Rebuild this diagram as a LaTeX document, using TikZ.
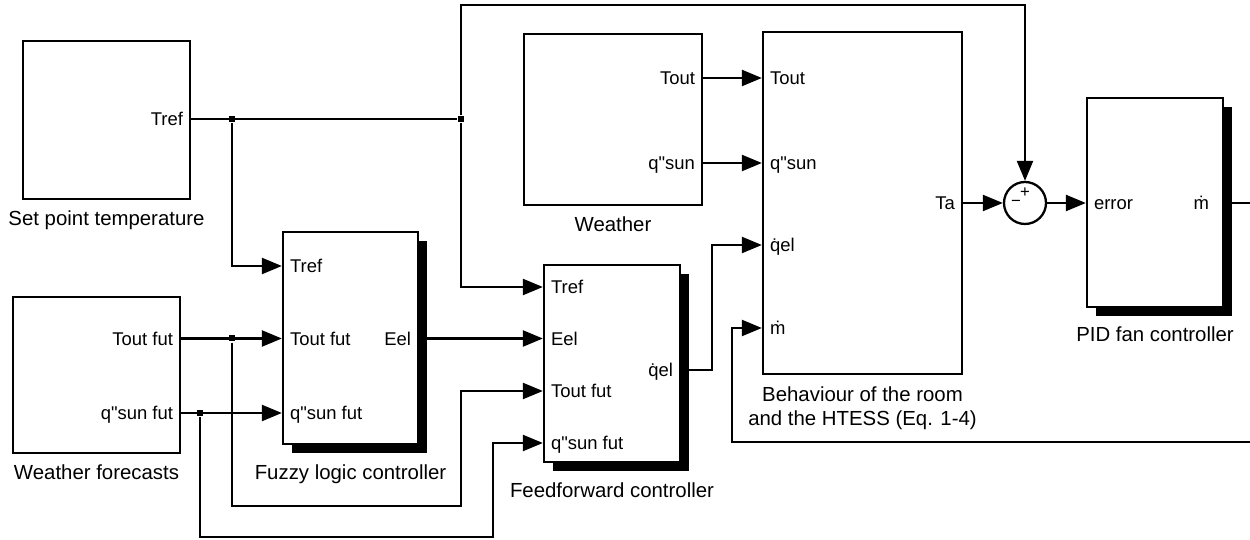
\documentclass[tikz,border=0pt]{standalone}
\usepackage{fontspec}
\newfontfamily\arial{Liberation Sans}
\usetikzlibrary{arrows.meta, positioning, calc, shadows}
\tikzset{
  bloque/.style={rectangle, draw=black, fill=white, inner sep=0pt},
  bloquesh/.style={bloque, drop shadow={opacity=1, fill=black, shadow xshift=0.18cm, shadow yshift=-0.18cm}},
  suma/.style={circle, draw=black, fill=white, minimum size=0.84cm, inner sep=0pt},
  signo/.style={font=\arial\fontsize{9.5}{10}\selectfont, inner sep=0pt},
  puerto/.style={font=\arial\fontsize{10.5}{12}\selectfont, inner xsep=4pt, inner ysep=0pt,
                 text height=7.5pt, text depth=0pt},
  pin/.style={puerto, anchor=west},
  pout/.style={puerto, anchor=east},
  rotulo/.style={font=\arial\fontsize{11.6}{13.6}\selectfont, inner sep=0pt, align=center},
  nodo/.style={rectangle, fill=black, minimum size=0.12cm, inner sep=0pt},
  flecha/.style={-{Triangle[length=0.4cm,width=0.32cm]}}
}
\begin{document}
\begin{tikzpicture}[line width=1.3pt]
  \useasboundingbox (0,0) rectangle (25,10.8);
  % bloques
  \node (sp) [bloque, minimum width=3.34cm, minimum height=3.16cm] at (2.13,8.40) {};
  \node (wf) [bloque, minimum width=3.34cm, minimum height=3.12cm] at (1.93,3.30) {};
  \node (fz) [bloquesh, minimum width=2.70cm, minimum height=4.24cm] at (7.01,4.04) {};
  \node (ff) [bloquesh, minimum width=2.72cm, minimum height=3.94cm] at (12.24,3.53) {};
  \node (we) [bloque, minimum width=3.56cm, minimum height=3.42cm] at (12.26,8.41) {};
  \node (rm) [bloque, minimum width=3.98cm, minimum height=6.84cm] at (17.25,6.74) {};
  \node (sm) [suma] at (20.50,6.74) {};
  \node (pid) [bloquesh, minimum width=2.72cm, minimum height=4.18cm] at (23.10,6.75) {};
  \node (sm-p) [signo] at ($(sm.center)+(0,0.2)$) {+};
  \node (sm-m) [signo] at ($(sm.center)+(-0.18,0)$) {−};
  % puertos
  \node (sp-o) [pout] at (sp.east |- 0,8.42) {Tref};
  \node (wf-o1) [pout] at (wf.east |- 0,4.03) {Tout fut};
  \node (wf-o2) [pout] at (wf.east |- 0,2.54) {q"sun fut};
  \node (fz-i1) [pin] at (fz.west |- 0,5.48) {Tref};
  \node (fz-i2) [pin] at (fz.west |- 0,4.03) {Tout fut};
  \node (fz-i3) [pin] at (fz.west |- 0,2.54) {q"sun fut};
  \node (fz-o) [pout] at (fz.east |- 0,4.03) {Eel};
  \node (ff-i1) [pin] at (ff.west |- 0,5.06) {Tref};
  \node (ff-i2) [pin] at (ff.west |- 0,4.03) {Eel};
  \node (ff-i3) [pin] at (ff.west |- 0,2.98) {Tout fut};
  \node (ff-i4) [pin] at (ff.west |- 0,1.94) {q"sun fut};
  \node (ff-o) [pout] at (ff.east |- 0,3.40) {q̇el};
  \node (we-o1) [pout] at (we.east |- 0,9.24) {Tout};
  \node (we-o2) [pout] at (we.east |- 0,7.54) {q"sun};
  \node (rm-i1) [pin] at (rm.west |- 0,9.24) {Tout};
  \node (rm-i2) [pin] at (rm.west |- 0,7.54) {q"sun};
  \node (rm-i3) [pin] at (rm.west |- 0,5.90) {q̇el};
  \node (rm-i4) [pin] at (rm.west |- 0,4.24) {ṁ};
  \node (rm-o) [pout] at (rm.east |- 0,6.74) {Ta};
  \node (pid-i) [pin] at (pid.west |- 0,6.74) {error};
  \node (pid-o) [pout, inner xsep=8pt] at (pid.east |- 0,6.74) {ṁ};
  % rotulos
  \node (sp-l) [rotulo, below=0.19cm of sp] {Set point temperature};
  \node (wf-l) [rotulo, below=0.19cm of wf] {Weather forecasts};
  \node (fz-l) [rotulo, below=0.37cm of fz] {Fuzzy logic controller};
  \node (ff-l) [rotulo, below=0.37cm of ff] {Feedforward controller};
  \node (we-l) [rotulo, below=0.19cm of we] {Weather};
  \node (rm-l) [rotulo, below=0.21cm of rm] {Behaviour of the room\\and the HTESS (Eq. 1-4)};
  \node (pid-l) [rotulo, below=0.35cm of pid] {PID fan controller};
  % uniones
  \node (j1) [nodo] at (4.64,8.42) {};
  \node (j2) [nodo] at (9.22,8.42) {};
  \node (j3) [nodo] at (4.64,4.03) {};
  \node (j4) [nodo] at (4.00,2.54) {};
  \coordinate (c1) at (9.22,10.70);
  \coordinate (c2) at (9.22,0.68);
  \coordinate (c3) at (9.86,0.06);
  \coordinate (c4) at (14.24,5.90);
  \coordinate (c5) at (14.64,4.24);
  \coordinate (pidR) at (25,6.74);
  \coordinate (fbR) at (25,1.96);
  % conexiones
  \draw (sp-o.east) -- (j2);
  \draw [flecha] (j1) |- (fz-i1.west);
  \draw [flecha] (j2) |- (ff-i1.west);
  \draw [flecha] (j2) -- (c1) -| (sm.north);
  \draw [flecha] (wf-o1.east) -- (fz-i2.west);
  \draw [flecha] (wf-o2.east) -- (fz-i3.west);
  \draw [flecha] (j3) |- (c2) |- (ff-i3.west);
  \draw [flecha] (j4) |- (c3) |- (ff-i4.west);
  \draw [flecha] (fz-o.east) -- (ff-i2.west);
  \draw [flecha] (ff-o.east) -| (c4) -- (rm-i3.west);
  \draw [flecha] (we-o1.east) -- (rm-i1.west);
  \draw [flecha] (we-o2.east) -- (rm-i2.west);
  \draw [flecha] (rm-o.east) -- (sm.west);
  \draw [flecha] (sm.east) -- (pid-i.west);
  \draw (pid-o.east) -- (pidR);
  \draw [flecha] (fbR) -| (c5) -- (rm-i4.west);
\end{tikzpicture}
\end{document}
